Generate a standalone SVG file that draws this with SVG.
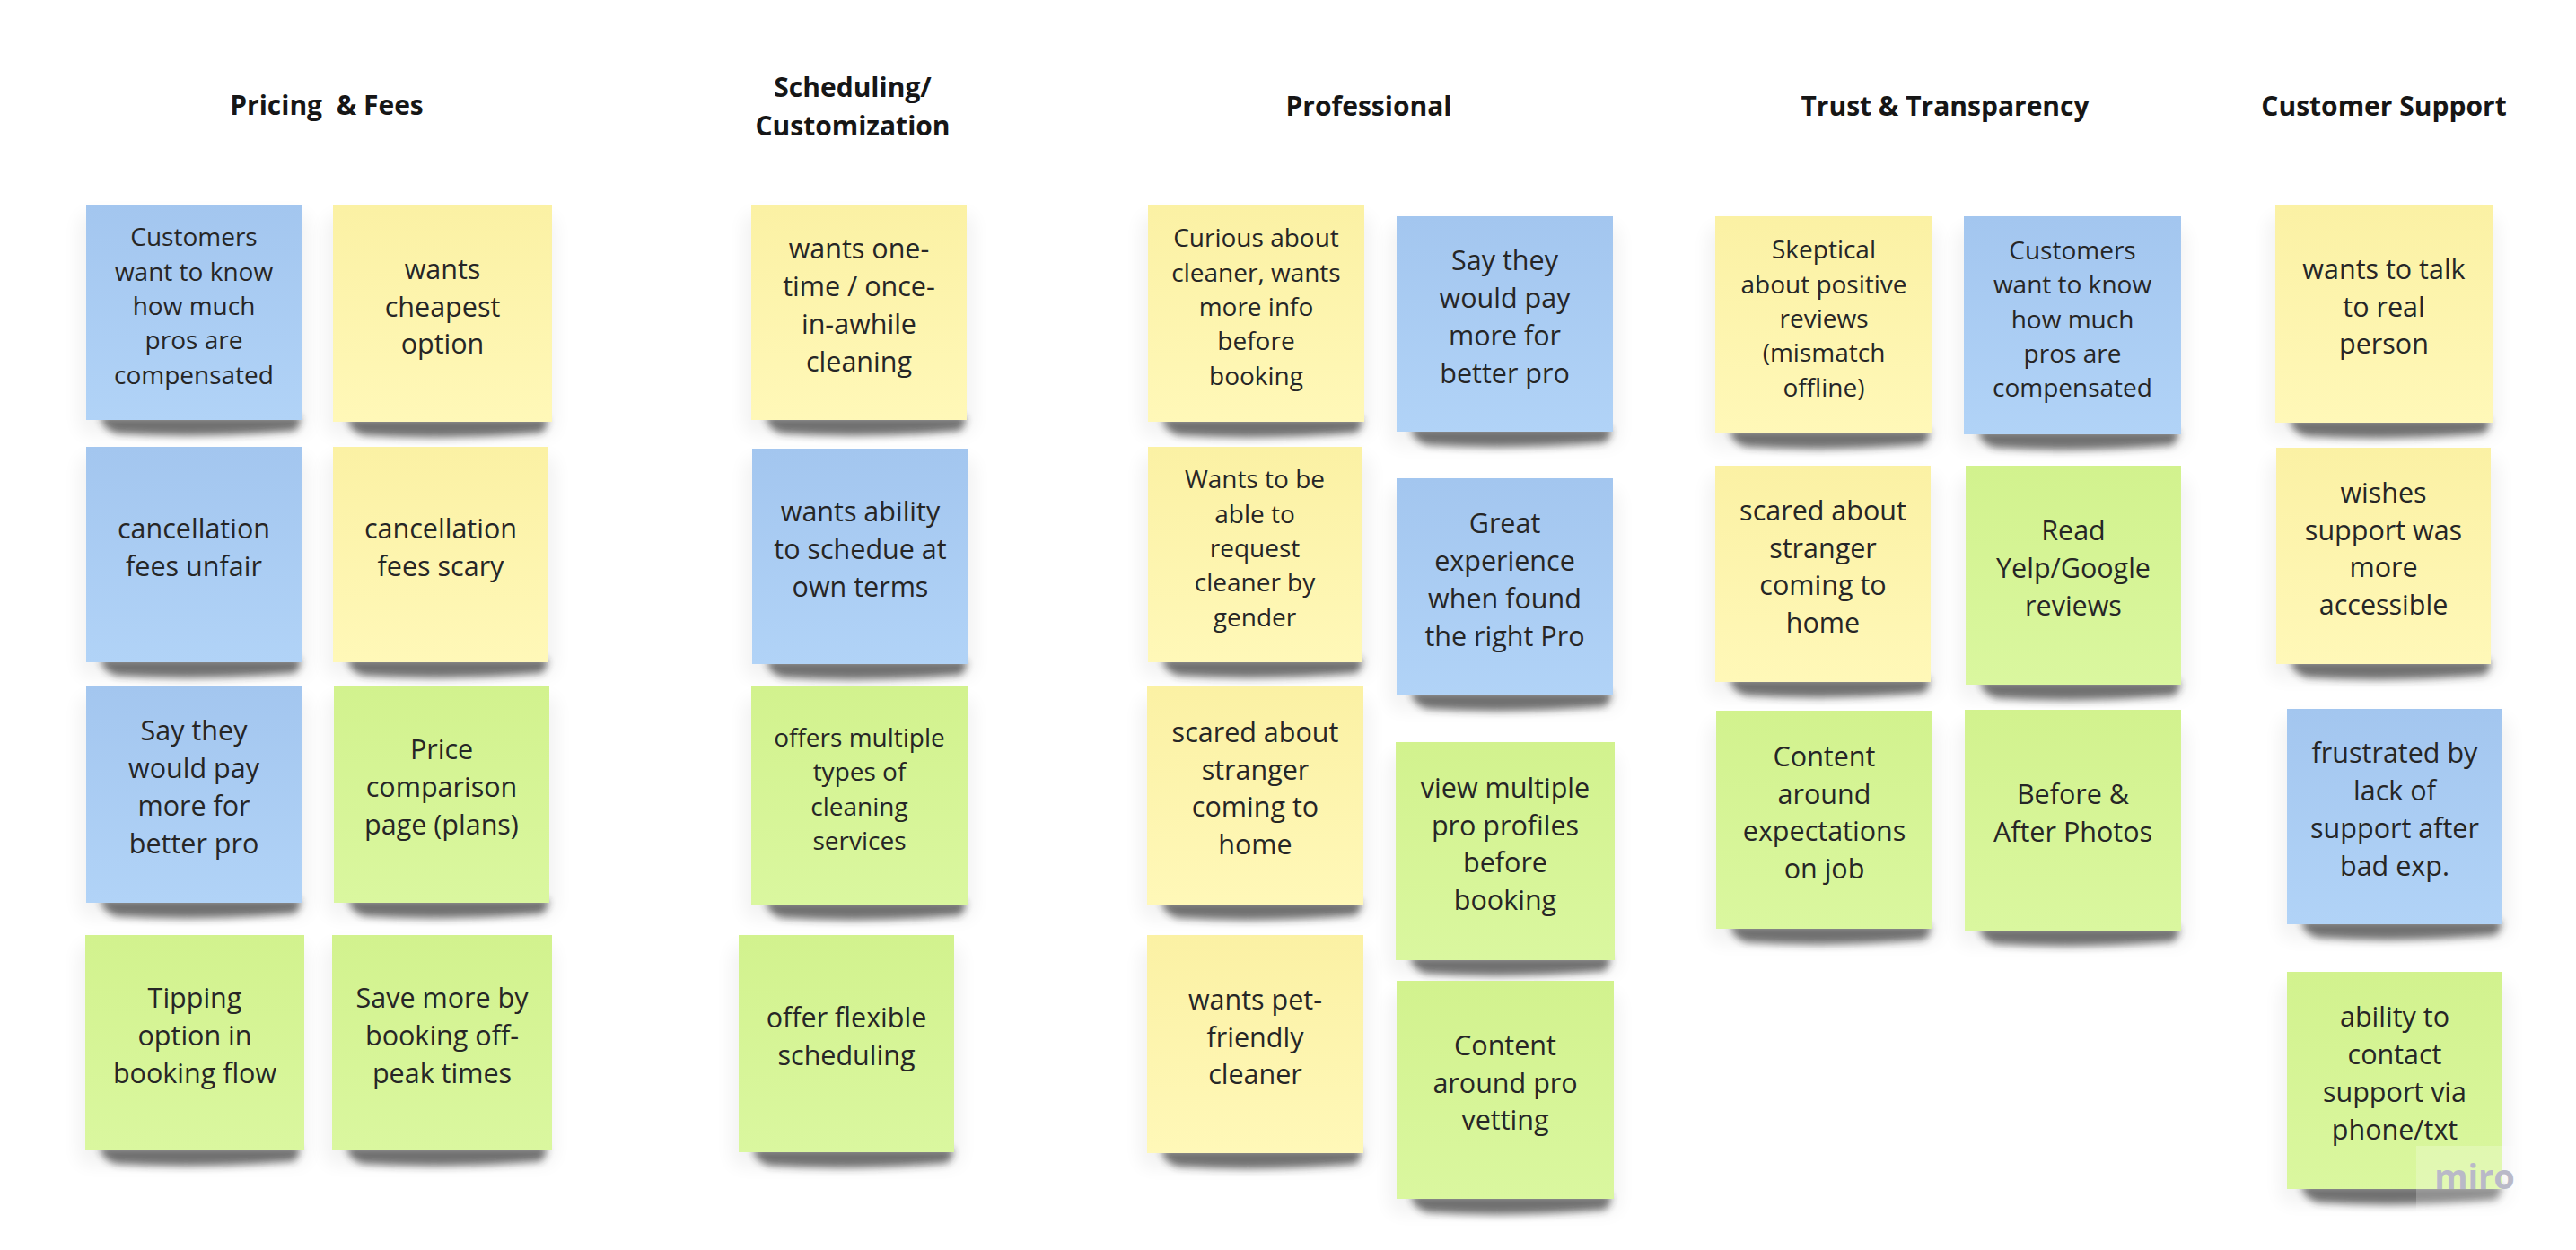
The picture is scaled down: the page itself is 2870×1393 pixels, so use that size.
<svg xmlns="http://www.w3.org/2000/svg" xmlns:xlink="http://www.w3.org/1999/xlink" width="2870" height="1393" viewBox="0 0 2870 1393">
  <style>
    .h { font-family: "Open Sans", "Liberation Sans", sans-serif; font-weight: 700; font-size: 30px; fill: #161616; text-anchor: middle; white-space: pre; }
    .t { font-family: "Open Sans", "Liberation Sans", sans-serif; font-size: 30.5px; fill: #262626; text-anchor: middle; }
    .t.s { font-size: 28px; }
    .blue { fill: url(#gBlue); }
    .yellow { fill: url(#gYellow); }
    .green { fill: url(#gGreen); }
    .wm { font-family: "Open Sans", "Liberation Sans", sans-serif; font-weight: 700; font-size: 38px; fill: #b9b9c8; text-anchor: middle; }
  </style>
  <defs>
    <linearGradient id="gBlue" x1="0" y1="0" x2="0" y2="1">
      <stop offset="0" stop-color="#a3c6ef"/>
      <stop offset="1" stop-color="#b1d3f7"/>
    </linearGradient>
    <linearGradient id="gYellow" x1="0" y1="0" x2="0" y2="1">
      <stop offset="0" stop-color="#fbf1a4"/>
      <stop offset="1" stop-color="#fff8b8"/>
    </linearGradient>
    <linearGradient id="gGreen" x1="0" y1="0" x2="0" y2="1">
      <stop offset="0" stop-color="#d2f28e"/>
      <stop offset="1" stop-color="#daf79f"/>
    </linearGradient>
    <filter id="fSh" x="-20%" y="-150%" width="140%" height="400%">
      <feGaussianBlur stdDeviation="4"/>
    </filter>
    <filter id="fHalo" x="-20%" y="-20%" width="140%" height="140%">
      <feGaussianBlur stdDeviation="10"/>
    </filter>
    <!-- sticky-note shadow, anchored at the note's bottom-left corner -->
    <g id="sh">
      <rect x="-8" y="-230" width="256" height="246" rx="12" fill="#000" opacity=".05" filter="url(#fHalo)"/>
      <path d="M16,-4 H238 Q241,4 232,12 Q130,21 34,15 Q18,10 16,-4 Z" fill="#2a2a2a" opacity=".65" filter="url(#fSh)"/>
    </g>
  </defs>

  <rect width="2870" height="1393" fill="#ffffff"/>

  <!-- column headings -->
  <g id="title-pricing"><text class="h" x="364" y="128">Pricing  &amp; Fees</text></g>
  <g id="title-scheduling"><text class="h"><tspan x="950" y="108">Scheduling/</tspan><tspan x="950" y="151">Customization</tspan></text></g>
  <g id="title-professional"><text class="h" x="1525" y="129">Professional</text></g>
  <g id="title-trust"><text class="h" x="2167" y="129">Trust &amp; Transparency</text></g>
  <g id="title-support"><text class="h" x="2656" y="129">Customer Support</text></g>

  <g id="connectors"/>

  <!-- Pricing & Fees -->
  <g id="pricing-1" transform="translate(96,228)">
    <use href="#sh" y="240"/>
    <rect class="blue" width="240" height="240"/>
    <text class="t s"><tspan x="120" y="46.2">Customers</tspan><tspan x="120" y="84.6">want to know</tspan><tspan x="120" y="123">how much</tspan><tspan x="120" y="161.4">pros are</tspan><tspan x="120" y="199.8">compensated</tspan></text>
  </g>
  <g id="pricing-2" transform="translate(371,229)">
    <use href="#sh" y="241"/>
    <rect class="yellow" width="244" height="241"/>
    <text class="t"><tspan x="122" y="81.7">wants</tspan><tspan x="122" y="123.5">cheapest</tspan><tspan x="122" y="165.3">option</tspan></text>
  </g>
  <g id="pricing-3" transform="translate(96,498)">
    <use href="#sh" y="240"/>
    <rect class="blue" width="240" height="240"/>
    <text class="t"><tspan x="120" y="102.1">cancellation</tspan><tspan x="120" y="143.9">fees unfair</tspan></text>
  </g>
  <g id="pricing-4" transform="translate(371,498)">
    <use href="#sh" y="240"/>
    <rect class="yellow" width="240" height="240"/>
    <text class="t"><tspan x="120" y="102.1">cancellation</tspan><tspan x="120" y="143.9">fees scary</tspan></text>
  </g>
  <g id="pricing-5" transform="translate(96,764)">
    <use href="#sh" y="242"/>
    <rect class="blue" width="240" height="242"/>
    <text class="t"><tspan x="120" y="61.3">Say they</tspan><tspan x="120" y="103.1">would pay</tspan><tspan x="120" y="144.9">more for</tspan><tspan x="120" y="186.7">better pro</tspan></text>
  </g>
  <g id="pricing-6" transform="translate(372,764)">
    <use href="#sh" y="242"/>
    <rect class="green" width="240" height="242"/>
    <text class="t"><tspan x="120" y="82.2">Price</tspan><tspan x="120" y="124">comparison</tspan><tspan x="120" y="165.8">page (plans)</tspan></text>
  </g>
  <g id="pricing-7" transform="translate(95,1042)">
    <use href="#sh" y="240"/>
    <rect class="green" width="244" height="240"/>
    <text class="t"><tspan x="122" y="81.2">Tipping</tspan><tspan x="122" y="123">option in</tspan><tspan x="122" y="164.8">booking flow</tspan></text>
  </g>
  <g id="pricing-8" transform="translate(370,1042)">
    <use href="#sh" y="240"/>
    <rect class="green" width="245" height="240"/>
    <text class="t"><tspan x="122.5" y="81.2">Save more by</tspan><tspan x="122.5" y="123">booking off-</tspan><tspan x="122.5" y="164.8">peak times</tspan></text>
  </g>

  <!-- Scheduling / Customization -->
  <g id="scheduling-1" transform="translate(837,228)">
    <use href="#sh" y="240"/>
    <rect class="yellow" width="240" height="240"/>
    <text class="t"><tspan x="120" y="60.3">wants one-</tspan><tspan x="120" y="102.1">time / once-</tspan><tspan x="120" y="143.9">in-awhile</tspan><tspan x="120" y="185.7">cleaning</tspan></text>
  </g>
  <g id="scheduling-2" transform="translate(838,500)">
    <use href="#sh" y="240"/>
    <rect class="blue" width="241" height="240"/>
    <text class="t"><tspan x="120.5" y="81.2">wants ability</tspan><tspan x="120.5" y="123">to schedue at</tspan><tspan x="120.5" y="164.8">own terms</tspan></text>
  </g>
  <g id="scheduling-3" transform="translate(837,765)">
    <use href="#sh" y="243"/>
    <rect class="green" width="241" height="243"/>
    <text class="t s"><tspan x="120.5" y="66.9">offers multiple</tspan><tspan x="120.5" y="105.3">types of</tspan><tspan x="120.5" y="143.7">cleaning</tspan><tspan x="120.5" y="182.1">services</tspan></text>
  </g>
  <g id="scheduling-4" transform="translate(823,1042)">
    <use href="#sh" y="242"/>
    <rect class="green" width="240" height="242"/>
    <text class="t"><tspan x="120" y="103.1">offer flexible</tspan><tspan x="120" y="144.9">scheduling</tspan></text>
  </g>

  <!-- Professional -->
  <g id="professional-1" transform="translate(1279,228)">
    <use href="#sh" y="242"/>
    <rect class="yellow" width="241" height="242"/>
    <text class="t s"><tspan x="120.5" y="47.2">Curious about</tspan><tspan x="120.5" y="85.6">cleaner, wants</tspan><tspan x="120.5" y="124">more info</tspan><tspan x="120.5" y="162.4">before</tspan><tspan x="120.5" y="200.8">booking</tspan></text>
  </g>
  <g id="professional-2" transform="translate(1556,241)">
    <use href="#sh" y="240"/>
    <rect class="blue" width="241" height="240"/>
    <text class="t"><tspan x="120.5" y="60.3">Say they</tspan><tspan x="120.5" y="102.1">would pay</tspan><tspan x="120.5" y="143.9">more for</tspan><tspan x="120.5" y="185.7">better pro</tspan></text>
  </g>
  <g id="professional-3" transform="translate(1279,498)">
    <use href="#sh" y="240"/>
    <rect class="yellow" width="238" height="240"/>
    <text class="t s"><tspan x="119" y="46.2">Wants to be</tspan><tspan x="119" y="84.6">able to</tspan><tspan x="119" y="123">request</tspan><tspan x="119" y="161.4">cleaner by</tspan><tspan x="119" y="199.8">gender</tspan></text>
  </g>
  <g id="professional-4" transform="translate(1556,533)">
    <use href="#sh" y="242"/>
    <rect class="blue" width="241" height="242"/>
    <text class="t"><tspan x="120.5" y="61.3">Great</tspan><tspan x="120.5" y="103.1">experience</tspan><tspan x="120.5" y="144.9">when found</tspan><tspan x="120.5" y="186.7">the right Pro</tspan></text>
  </g>
  <g id="professional-5" transform="translate(1278,765)">
    <use href="#sh" y="243"/>
    <rect class="yellow" width="241" height="243"/>
    <text class="t"><tspan x="120.5" y="61.8">scared about</tspan><tspan x="120.5" y="103.6">stranger</tspan><tspan x="120.5" y="145.4">coming to</tspan><tspan x="120.5" y="187.2">home</tspan></text>
  </g>
  <g id="professional-6" transform="translate(1555,827)">
    <use href="#sh" y="243"/>
    <rect class="green" width="244" height="243"/>
    <text class="t"><tspan x="122" y="61.8">view multiple</tspan><tspan x="122" y="103.6">pro profiles</tspan><tspan x="122" y="145.4">before</tspan><tspan x="122" y="187.2">booking</tspan></text>
  </g>
  <g id="professional-7" transform="translate(1278,1042)">
    <use href="#sh" y="243"/>
    <rect class="yellow" width="241" height="243"/>
    <text class="t"><tspan x="120.5" y="82.7">wants pet-</tspan><tspan x="120.5" y="124.5">friendly</tspan><tspan x="120.5" y="166.3">cleaner</tspan></text>
  </g>
  <g id="professional-8" transform="translate(1556,1093)">
    <use href="#sh" y="243"/>
    <rect class="green" width="242" height="243"/>
    <text class="t"><tspan x="121" y="82.7">Content</tspan><tspan x="121" y="124.5">around pro</tspan><tspan x="121" y="166.3">vetting</tspan></text>
  </g>

  <!-- Trust & Transparency -->
  <g id="trust-1" transform="translate(1911,241)">
    <use href="#sh" y="242"/>
    <rect class="yellow" width="242" height="242"/>
    <text class="t s"><tspan x="121" y="47.2">Skeptical</tspan><tspan x="121" y="85.6">about positive</tspan><tspan x="121" y="124">reviews</tspan><tspan x="121" y="162.4">(mismatch</tspan><tspan x="121" y="200.8">offline)</tspan></text>
  </g>
  <g id="trust-2" transform="translate(2188,241)">
    <use href="#sh" y="243"/>
    <rect class="blue" width="242" height="243"/>
    <text class="t s"><tspan x="121" y="47.7">Customers</tspan><tspan x="121" y="86.1">want to know</tspan><tspan x="121" y="124.5">how much</tspan><tspan x="121" y="162.9">pros are</tspan><tspan x="121" y="201.3">compensated</tspan></text>
  </g>
  <g id="trust-3" transform="translate(1911,519)">
    <use href="#sh" y="241"/>
    <rect class="yellow" width="240" height="241"/>
    <text class="t"><tspan x="120" y="60.8">scared about</tspan><tspan x="120" y="102.6">stranger</tspan><tspan x="120" y="144.4">coming to</tspan><tspan x="120" y="186.2">home</tspan></text>
  </g>
  <g id="trust-4" transform="translate(2190,519)">
    <use href="#sh" y="244"/>
    <rect class="green" width="240" height="244"/>
    <text class="t"><tspan x="120" y="83.2">Read</tspan><tspan x="120" y="125">Yelp/Google</tspan><tspan x="120" y="166.8">reviews</tspan></text>
  </g>
  <g id="trust-5" transform="translate(1912,792)">
    <use href="#sh" y="243"/>
    <rect class="green" width="241" height="243"/>
    <text class="t"><tspan x="120.5" y="61.8">Content</tspan><tspan x="120.5" y="103.6">around</tspan><tspan x="120.5" y="145.4">expectations</tspan><tspan x="120.5" y="187.2">on job</tspan></text>
  </g>
  <g id="trust-6" transform="translate(2189,791)">
    <use href="#sh" y="246"/>
    <rect class="green" width="241" height="246"/>
    <text class="t"><tspan x="120.5" y="105.1">Before &amp;</tspan><tspan x="120.5" y="146.9">After Photos</tspan></text>
  </g>

  <!-- Customer Support -->
  <g id="support-1" transform="translate(2535,228)">
    <use href="#sh" y="243"/>
    <rect class="yellow" width="242" height="243"/>
    <text class="t"><tspan x="121" y="82.7">wants to talk</tspan><tspan x="121" y="124.5">to real</tspan><tspan x="121" y="166.3">person</tspan></text>
  </g>
  <g id="support-2" transform="translate(2536,499)">
    <use href="#sh" y="241"/>
    <rect class="yellow" width="239" height="241"/>
    <text class="t"><tspan x="119.5" y="60.8">wishes</tspan><tspan x="119.5" y="102.6">support was</tspan><tspan x="119.5" y="144.4">more</tspan><tspan x="119.5" y="186.2">accessible</tspan></text>
  </g>
  <g id="support-3" transform="translate(2548,790)">
    <use href="#sh" y="240"/>
    <rect class="blue" width="240" height="240"/>
    <text class="t"><tspan x="120" y="60.3">frustrated by</tspan><tspan x="120" y="102.1">lack of</tspan><tspan x="120" y="143.9">support after</tspan><tspan x="120" y="185.7">bad exp.</tspan></text>
  </g>
  <g id="support-4" transform="translate(2548,1083)">
    <use href="#sh" y="242"/>
    <rect class="green" width="240" height="242"/>
    <text class="t"><tspan x="120" y="61.3">ability to</tspan><tspan x="120" y="103.1">contact</tspan><tspan x="120" y="144.9">support via</tspan><tspan x="120" y="186.7">phone/txt</tspan></text>
  </g>

  <!-- board watermark -->
  <g id="watermark">
    <rect x="2692" y="1277" width="140" height="80" fill="#ffffff" opacity=".22"/>
    <text class="wm" x="2757" y="1325">miro</text>
  </g>
</svg>
